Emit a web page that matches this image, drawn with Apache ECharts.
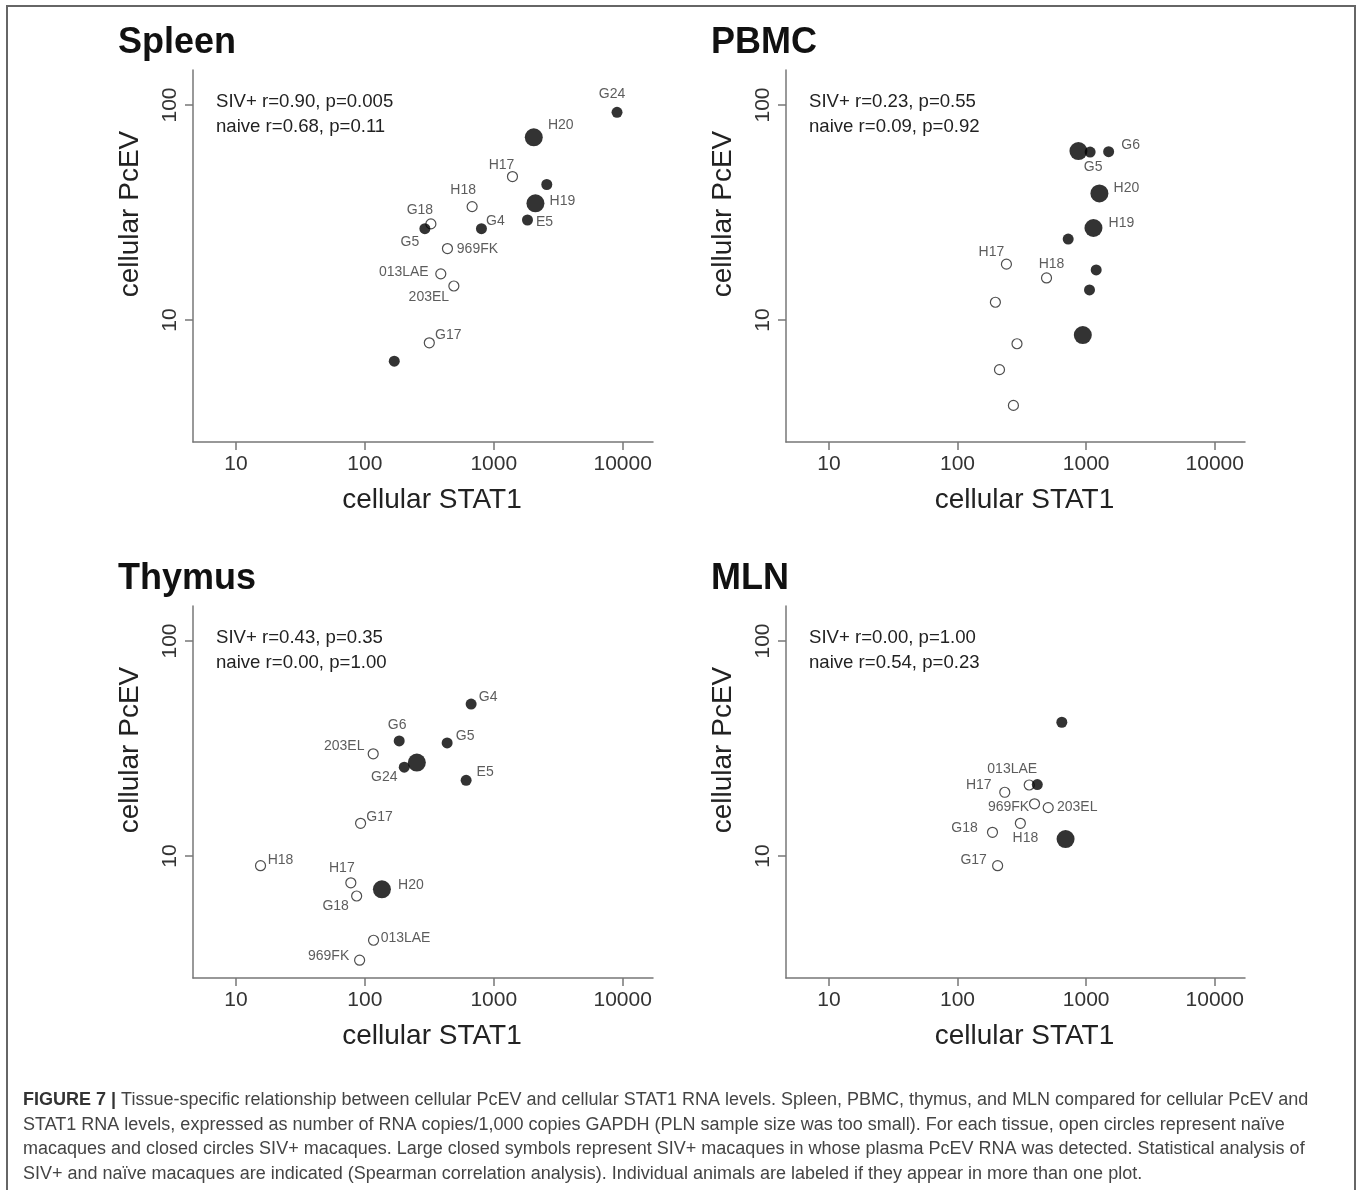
<!DOCTYPE html>
<html>
<head>
<meta charset="utf-8">
<script src="https://cdn.jsdelivr.net/npm/echarts@6/dist/echarts.min.js"></script>
<style>
html, body { margin: 0; padding: 0; background: #fff; }
#main { width: 1358px; height: 1190px; }
</style>
</head>
<body>
<div id="main"></div>
<script>
// each point: [cellular STAT1, cellular PcEV, animal]
var panelTitles = ['Spleen', 'PBMC', 'Thymus', 'MLN'];
var statsSiv = ['SIV+ r=0.90, p=0.005', 'SIV+ r=0.23, p=0.55', 'SIV+ r=0.43, p=0.35', 'SIV+ r=0.00, p=1.00'];
var statsNaive = ['naive r=0.68, p=0.11', 'naive r=0.09, p=0.92', 'naive r=0.00, p=1.00', 'naive r=0.54, p=0.23'];
var xTicks = [10, 100, 1000, 10000];
var yTicks = [10, 100];

var spleenNaive = [[1396, 46.5, 'H17'], [679, 33.7, 'H18'], [325, 28.0, 'G18'], [437, 21.5, '969FK'], [388, 16.4, '013LAE'], [490, 14.4, '203EL'], [316, 7.84, 'G17']];
var spleenSiv = [[9036, 92.5, 'G24'], [2576, 42.7, ''], [1825, 29.2, 'E5'], [802, 26.6, 'G4'], [292, 26.6, 'G5'], [169, 6.44, '']];
var spleenSivPlasma = [[2042, 70.8, 'H20'], [2104, 34.9, 'H19']];

var pbmcNaive = [[240, 18.2, 'H17'], [492, 15.7, 'H18'], [197, 12.1, ''], [290, 7.76, ''], [212, 5.88, ''], [272, 4.01, '']];
var pbmcSiv = [[1074, 60.4, 'G5'], [1496, 60.7, 'G6'], [725, 23.8, ''], [1197, 17.1, ''], [1062, 13.8, '']];
var pbmcSivPlasma = [[871, 61.1, ''], [1268, 38.8, 'H20'], [1140, 26.8, 'H19'], [942, 8.52, '']];

var thymusNaive = [[116, 29.9, '203EL'], [92.6, 14.2, 'G17'], [15.5, 9.02, 'H18'], [77.8, 7.51, 'H17'], [86.3, 6.52, 'G18'], [116.7, 4.06, '013LAE'], [91, 3.28, '969FK']];
var thymusSiv = [[667, 50.9, 'G4'], [184.6, 34.3, 'G6'], [434.6, 33.6, 'G5'], [202, 25.9, 'G24'], [610, 22.5, 'E5']];
var thymusSivPlasma = [[253, 27.2, ''], [135.5, 7.0, 'H20']];

var mlnNaive = [[361, 21.4, '013LAE'], [233, 19.8, 'H17'], [397, 17.5, '969FK'], [507, 16.8, '203EL'], [308, 14.2, 'H18'], [187, 12.9, 'G18'], [205, 9.02, 'G17']];
var mlnSiv = [[647, 41.9, ''], [417, 21.5, '']];
var mlnSivPlasma = [[692, 12.0, '']];

var captionLines = [
    'Tissue-specific relationship between cellular PcEV and cellular STAT1 RNA levels. Spleen, PBMC, thymus, and MLN compared for cellular PcEV and',
    'STAT1 RNA levels, expressed as number of RNA copies/1,000 copies GAPDH (PLN sample size was too small). For each tissue, open circles represent naïve',
    'macaques and closed circles SIV+ macaques. Large closed symbols represent SIV+ macaques in whose plasma PcEV RNA was detected. Statistical analysis of',
    'SIV+ and naïve macaques are indicated (Spearman correlation analysis). Individual animals are labeled if they appear in more than one plot.'
];

// label offsets (px from point centre) - layout only
var labelOffsets = [
    {G24: [-5, -18], H20: [27, -12], H17: [-11, -11], H18: [-9, -16], H19: [27, -2], E5: [17, 2], G4: [14, -8],
     G18: [-11, -14], G5: [-15, 13], '969FK': [30, 1], '013LAE': [-37, -2], '203EL': [-25, 11], G17: [19, -8]},
    {G5: [3, 15], G6: [22, -7], H20: [27, -5], H19: [28, -5], H17: [-15, -12], H18: [5, -14]},
    {G4: [17, -7], G6: [-2, -16], G5: [18, -7], '203EL': [-29, -8], G24: [-20, 10], E5: [19, -8], G17: [19, -6],
     H18: [20, -6], H17: [-9, -15], H20: [29, -4], G18: [-21, 10], '013LAE': [32, -2], '969FK': [-31, -4]},
    {'013LAE': [-17, -16], H17: [-26, -7], '969FK': [-26, 3], '203EL': [29, 0], H18: [5, 15], G18: [-28, -4], G17: [-24, -6]}
];

var panelData = [
    [spleenNaive, spleenSiv, spleenSivPlasma],
    [pbmcNaive, pbmcSiv, pbmcSivPlasma],
    [thymusNaive, thymusSiv, thymusSivPlasma],
    [mlnNaive, mlnSiv, mlnSivPlasma]
];

var grids = [
    {left: 193, top: 70, width: 460, height: 372},
    {left: 786, top: 70, width: 459, height: 372},
    {left: 193, top: 606, width: 460, height: 372},
    {left: 786, top: 606, width: 459, height: 372}
];

var font = 'Liberation Sans, Arial, sans-serif';
var axisColor = '#777';

var markerStyles = [
    {size: 10, z: 2, item: {color: '#fff', borderColor: '#222', borderWidth: 1.2}},
    {size: 11, z: 3, item: {color: '#000', borderWidth: 0}},
    {size: 18, z: 4, item: {color: '#000', borderWidth: 0}}
];

var myChart = echarts.init(document.getElementById('main'));

var xAxes = [], yAxes = [], series = [], graphics = [];

function intLabel(v) {
    return String(Math.round(v));
}

grids.forEach(function (g, i) {
    xAxes.push({
        type: 'log', gridIndex: i, logBase: 10, min: 4.64, max: 17180,
        axisLine: {show: true, lineStyle: {color: axisColor, width: 1.5}},
        axisTick: {show: true, length: 8, lineStyle: {color: axisColor, width: 1.5}, customValues: xTicks},
        axisLabel: {show: true, margin: 12, color: '#333', fontSize: 21, fontFamily: font, customValues: xTicks,
            formatter: intLabel},
        splitLine: {show: false}, minorTick: {show: false}
    });
    yAxes.push({
        type: 'log', gridIndex: i, logBase: 10, min: 2.71, max: 145.5,
        axisLine: {show: true, lineStyle: {color: axisColor, width: 1.5}},
        axisTick: {show: true, length: 8, lineStyle: {color: axisColor, width: 1.5}, customValues: yTicks},
        axisLabel: {show: true, margin: 12, rotate: 90, color: '#333', fontSize: 21, fontFamily: font, customValues: yTicks,
            formatter: intLabel},
        splitLine: {show: false}, minorTick: {show: false}
    });

    panelData[i].forEach(function (data, k) {
        var st = markerStyles[k];
        var offs = labelOffsets[i];
        series.push({
            type: 'scatter', xAxisIndex: i, yAxisIndex: i,
            symbol: 'circle', symbolSize: st.size, z: st.z,
            itemStyle: st.item,
            silent: true,
            emphasis: {disabled: true},
            label: {show: false, position: 'inside', formatter: '{b}', color: '#333', fontSize: 14,
                fontFamily: font, textBorderWidth: 0},
            data: data.map(function (d) {
                var item = {value: [d[0], d[1]], name: d[2]};
                if (d[2] && offs[d[2]]) {
                    item.label = {show: true, offset: offs[d[2]]};
                }
                return item;
            })
        });
    });

    var cx = g.left + g.width / 2;
    // panel title
    graphics.push({type: 'text', x: g.left - 75, y: g.top - 27, style: {
        text: panelTitles[i], font: 'bold 36px ' + font, fill: '#111', align: 'left', verticalAlign: 'middle'}});
    // stats
    graphics.push({type: 'text', x: g.left + 23, y: g.top + 32, style: {
        text: statsSiv[i], font: '18.6px ' + font, fill: '#222', align: 'left', verticalAlign: 'middle'}});
    graphics.push({type: 'text', x: g.left + 23, y: g.top + 57, style: {
        text: statsNaive[i], font: '18.6px ' + font, fill: '#222', align: 'left', verticalAlign: 'middle'}});
    // axis titles
    graphics.push({type: 'text', x: cx + 9, y: g.top + g.height + 58, style: {
        text: 'cellular STAT1', font: '28px ' + font, fill: '#222', align: 'center', verticalAlign: 'middle'}});
    graphics.push({type: 'text', x: g.left - 63, y: g.top + 144, rotation: Math.PI / 2, style: {
        text: 'cellular PcEV', font: '28px ' + font, fill: '#222', align: 'center', verticalAlign: 'middle'}});
});

// caption
captionLines.forEach(function (line, j) {
    var txt = j === 0 ? '{b|FIGURE 7 |} ' + line : line;
    graphics.push({type: 'text', x: 23, y: 1100 + j * 24.6, style: {
        text: txt, font: '18px ' + font, fill: '#444', align: 'left', verticalAlign: 'middle',
        rich: {b: {fontWeight: 'bold', fontSize: 18, fontFamily: font, fill: '#333'}}}});
});

// outer frame
graphics.push({type: 'rect', shape: {x: 7, y: 6, width: 1348, height: 1200}, z: -1,
    style: {fill: 'none', stroke: '#666', lineWidth: 2}});

myChart.setOption({
    animation: false,
    backgroundColor: '#fff',
    grid: grids,
    xAxis: xAxes,
    yAxis: yAxes,
    series: series,
    graphic: graphics
});
</script>
</body>
</html>
